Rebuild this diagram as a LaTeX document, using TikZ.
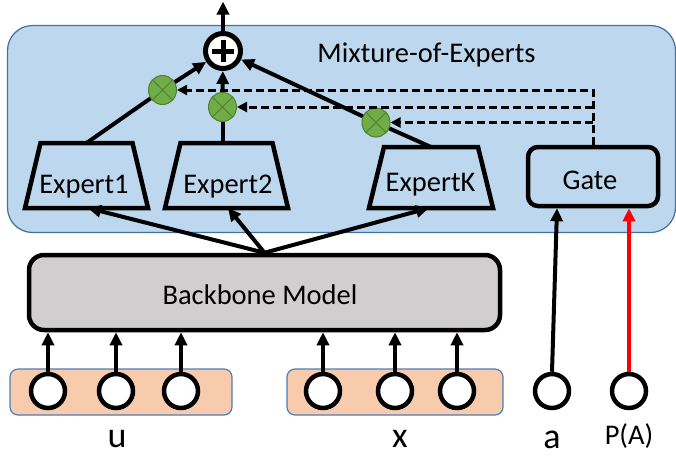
\documentclass[tikz,border=0pt]{standalone}
\usepackage{fontspec}
\setmainfont{Carlito}
\usetikzlibrary{arrows.meta,shapes.geometric}

\definecolor{moefill}{HTML}{BDD7EE}
\definecolor{moeedge}{HTML}{41719C}
\definecolor{bbfill}{HTML}{D0CECE}
\definecolor{infill}{HTML}{F8CBAD}
\definecolor{inedge}{HTML}{4A7EBB}
\definecolor{gfill}{HTML}{70AD47}
\definecolor{gedge}{HTML}{507E32}

\begin{document}
\begin{tikzpicture}[x=1pt,y=-1pt,
  moebox/.style={draw=moeedge,fill=moefill,line width=1.2pt,rounded corners=25pt,
    minimum width=668pt,minimum height=207pt,inner sep=0pt},
  expertline/.style={draw,line width=4.5pt,line join=miter},
  gatebox/.style={draw,line width=4.5pt,rounded corners=10pt,
    minimum width=130pt,minimum height=59pt,inner sep=0pt},
  bbbox/.style={draw,fill=bbfill,line width=4.5pt,rounded corners=15pt,
    minimum width=471pt,minimum height=75pt,inner sep=0pt},
  inbox/.style={draw=inedge,fill=infill,line width=1.2pt,rounded corners=8pt,
    minimum height=46pt,inner sep=0pt},
  incirc/.style={circle,draw,fill=white,line width=4.5pt,minimum size=34pt,inner sep=0pt},
  gmul/.style={ellipse,draw=gedge,fill=gfill,line width=1pt,
    minimum width=28pt,minimum height=29pt,inner sep=0pt},
  sumnode/.style={circle,draw,fill=white,line width=5pt,minimum size=35pt,inner sep=0pt},
  lbl/.style={font=\fontsize{28.5}{30}\selectfont,anchor=base,inner sep=0pt},
  biglbl/.style={font=\fontsize{36}{40}\selectfont,anchor=base,inner sep=0pt},
  flow/.style={line width=4pt,-{Triangle[length=13pt,width=12pt]}},
  plainline/.style={line width=4pt},
  gateflow/.style={line width=3pt,dash pattern=on 8pt off 4pt,
    -{Triangle[length=10pt,width=10pt]}},
]
\useasboundingbox (0,0) rectangle (676,456);

% Mixture-of-Experts container
\node[moebox] (moe) at (341.5,129) {};
\node[lbl] (moetitle) at (426.5,62) {Mixture-of-Experts};

% experts (trapezoids, wide side down)
\draw[expertline] (25,208) -- (40.5,143) -- (132.5,143) -- (148,208) -- cycle;
\draw[expertline] (165,208) -- (180.5,143) -- (272.5,143) -- (288,208) -- cycle;
\draw[expertline] (369,208) -- (384,147) -- (478,147) -- (493,208) -- cycle;
\coordinate (e1n) at (86.5,143);  \coordinate (e1s) at (88,208);
\coordinate (e2n) at (222.5,143); \coordinate (e2s) at (228,208);
\coordinate (eKn) at (431,147);   \coordinate (eKs) at (429,208);
\node[lbl] (e1t) at (84,193) {Expert1};
\node[lbl] (e2t) at (228,193) {Expert2};
\node[lbl] (eKt) at (430.5,191) {ExpertK};

% gate
\node[gatebox] (gate) at (593,176.5) {};
\node[lbl] (gatet) at (590,189) {Gate};

% gating multipliers and sum
\node[gmul] (g1) at (162.5,90) {};
\node[gmul] (g2) at (222.5,107) {};
\node[gmul] (gK) at (376,122.5) {};
\foreach \g in {g1,g2,gK}{
  \draw[gedge,line width=1pt] (\g.45) -- (\g.225) (\g.135) -- (\g.315);
}
\node[sumnode] (sum) at (223,51) {};
\draw[line width=5pt] ([xshift=-11pt]sum.center) -- ([xshift=11pt]sum.center)
  ([yshift=-11pt]sum.center) -- ([yshift=11pt]sum.center);
\coordinate (out) at (223,1.5);

% backbone
\node[bbbox] (bb) at (264.5,292.5) {};
\node[lbl] (bbt) at (260,304) {Backbone Model};

% inputs
\node[inbox,minimum width=222pt] (ubox) at (121,392) {};
\node[inbox,minimum width=216pt] (xbox) at (395,392) {};
\node[incirc] (u1) at (48,391) {};
\node[incirc] (u2) at (116,391) {};
\node[incirc] (u3) at (181,391) {};
\node[incirc] (x1) at (323,391) {};
\node[incirc] (x2) at (395,391) {};
\node[incirc] (x3) at (457,391) {};
\node[incirc] (ain) at (552,391) {};
\node[incirc] (pin) at (629,391) {};
\node[biglbl] (ut) at (117,447) {u};
\node[biglbl] (xt) at (400,447) {x};
\node[biglbl] (at) at (552,448) {a};
\node[lbl] (pt) at (629,444) {P(A)};

% input arrows into the backbone
\foreach \c in {u1,u2,u3,x1,x2,x3}{
  \draw[flow] (\c.north) -- (\c.north |- bb.south);
}

% backbone to experts
\draw[flow] (bb.north) -- (e1s);
\draw[flow] (bb.north) -- (e2s);
\draw[flow] (bb.north) -- (eKs);

% experts through multipliers to the sum
\draw[plainline] (e1n) -- (g1);
\draw[plainline] (e2n) -- (g2);
\draw[plainline] (eKn) -- (gK);
\draw[flow] (g1) -- (sum);
\draw[flow] (g2) -- (sum);
\draw[flow] (gK) -- (sum);
\draw[flow] (sum.north) -- (out);

% gate weights
\draw[gateflow] (gate.north) |- (g1.east);
\draw[gateflow] (gate.north |- g2.east) -- (g2.east);
\draw[gateflow] (gate.north |- gK.east) -- (gK.east);

% gate inputs
\draw[flow] (ain.north) -- ([xshift=-36pt]gate.south);
\draw[flow,red] (pin.north) -- ([xshift=36pt]gate.south);
\end{tikzpicture}
\end{document}
